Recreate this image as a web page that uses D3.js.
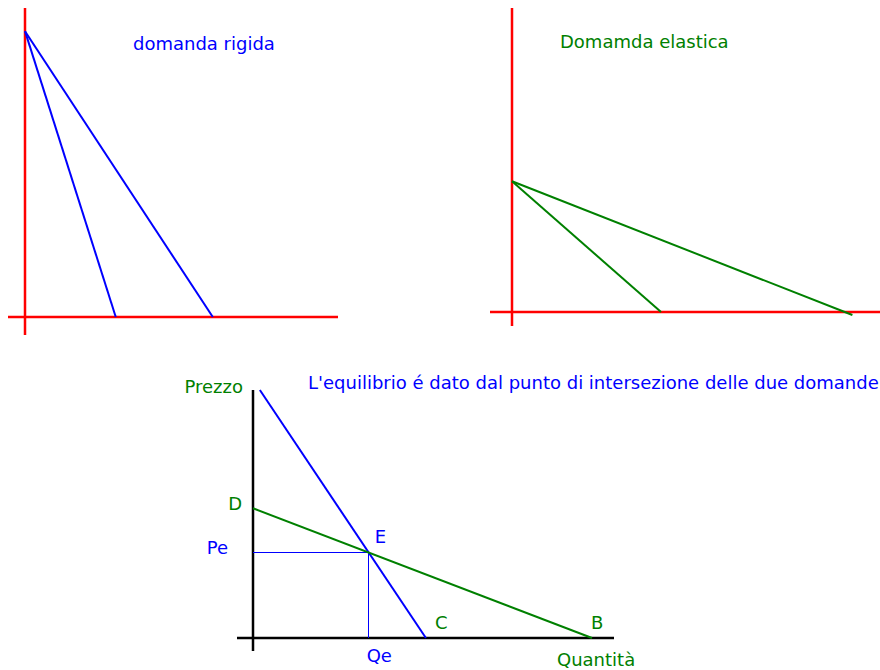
<!DOCTYPE html>
<html>
<head>
<meta charset="utf-8">
<script src="https://cdn.jsdelivr.net/npm/d3@7"></script>
<style>
  body { margin: 0; background: #fff; }
  text { font-family: "DejaVu Sans", Verdana, sans-serif; font-size: 18px; }
</style>
</head>
<body>
<div id="chart"></div>
<script>
// panel 1: domanda rigida (two steep demand curves from the same intercept)
const rigidTitle = "domanda rigida";
const rigidLines = [
    [[0, 92.5], [29, 0]],
    [[0, 92.5], [60, 0]]
];

// panel 2: domanda elastica (two flat demand curves)
const elasticTitle = "Domamda elastica";
const elasticLines = [
    [[0, 43], [40.5, 0]],
    [[0, 43], [92.5, -1]]
];

// panel 3: equilibrium of the two demands
const eqTitle = "L'equilibrio é dato dal punto di intersezione delle due domande";
const rigidDemand = [[1.9, 100], [47.9, 0]];   // blue, ends at C
const elasticDemand = [[0, 52.3], [93.9, 0]];  // green, D -> B

const W = 880, H = 670;
const RED = "#ff0000", BLUE = "#0000ff", GREEN = "#008000";

const svg = d3.select("#chart").append("svg")
    .attr("width", W)
    .attr("height", H);

const line = d3.line();

function panel(xr, yr, axisColor, axisWidth) {
    const x = d3.scaleLinear().domain([0, 100]).range(xr);
    const y = d3.scaleLinear().domain([0, 100]).range(yr);
    return { x, y, axisColor, axisWidth };
}

function drawAxes(p, xOver, yOver) {
    // horizontal axis, slightly overhanging the origin
    svg.append("line")
        .attr("x1", p.x(0) - xOver).attr("x2", p.x(100))
        .attr("y1", p.y(0)).attr("y2", p.y(0))
        .attr("stroke", p.axisColor).attr("stroke-width", p.axisWidth);
    // vertical axis
    svg.append("line")
        .attr("x1", p.x(0)).attr("x2", p.x(0))
        .attr("y1", p.y(0) + yOver).attr("y2", p.y(100))
        .attr("stroke", p.axisColor).attr("stroke-width", p.axisWidth);
}

function drawLines(p, lines, color, w, crisp) {
    svg.append("g").selectAll("path")
        .data(lines)
        .enter().append("path")
            .attr("d", d => line(d.map(pt => [p.x(pt[0]), p.y(pt[1])])))
            .attr("fill", "none")
            .attr("stroke", color)
            .attr("stroke-width", w)
            .attr("shape-rendering", crisp ? "crispEdges" : null);
}

// 1) domanda rigida
const p1 = panel([25, 338], [317, 8], RED, 2.5);
drawAxes(p1, 17, 18);
drawLines(p1, rigidLines, BLUE, 2);
svg.append("text")
    .attr("x", 133).attr("y", 50)
    .attr("fill", BLUE)
    .text(rigidTitle);

// 2) domanda elastica
const p2 = panel([512, 880], [312, 8], RED, 2.5);
drawAxes(p2, 22, 14);
drawLines(p2, elasticLines, GREEN, 2);
svg.append("text")
    .attr("x", 560).attr("y", 48)
    .attr("fill", GREEN)
    .text(elasticTitle);

// 3) equilibrio
const p3 = panel([253, 614], [638, 390], "#000", 2.5);
drawAxes(p3, 16, 13);

// intersection E of the two demand lines
function intersect(a, b) {
    const [[x1, y1], [x2, y2]] = a, [[x3, y3], [x4, y4]] = b;
    const den = (x1 - x2) * (y3 - y4) - (y1 - y2) * (x3 - x4);
    const t = ((x1 - x3) * (y3 - y4) - (y1 - y3) * (x3 - x4)) / den;
    return [x1 + t * (x2 - x1), y1 + t * (y2 - y1)];
}
const E = intersect(rigidDemand, elasticDemand);

// dropped lines Pe and Qe
drawLines(p3, [[[0, E[1]], E], [E, [E[0], 0]]], BLUE, 1, true);
drawLines(p3, [rigidDemand], BLUE, 2);
drawLines(p3, [elasticDemand], GREEN, 2);

svg.append("text")
    .attr("x", 308).attr("y", 389)
    .attr("fill", BLUE)
    .text(eqTitle);

const ex = p3.x(E[0]), ey = p3.y(E[1]);
const labels = [
    { t: "Prezzo", x: p3.x(0) - 10, y: 393, anchor: "end", c: GREEN },
    { t: "D", x: p3.x(0) - 11, y: p3.y(elasticDemand[0][1]) + 2, anchor: "end", c: GREEN },
    { t: "Pe", x: p3.x(0) - 25, y: ey + 1, anchor: "end", c: BLUE },
    { t: "E", x: ex + 6, y: ey - 10, anchor: "start", c: BLUE },
    { t: "C", x: p3.x(rigidDemand[1][0]) + 9, y: p3.y(0) - 9, anchor: "start", c: GREEN },
    { t: "B", x: p3.x(elasticDemand[1][0]) - 1, y: p3.y(0) - 9, anchor: "start", c: GREEN },
    { t: "Qe", x: ex - 2, y: 662, anchor: "start", c: BLUE },
    { t: "Quantità", x: 557, y: 666, anchor: "start", c: GREEN }
];
svg.append("g").selectAll("text")
    .data(labels)
    .enter().append("text")
        .attr("x", d => d.x)
        .attr("y", d => d.y)
        .attr("text-anchor", d => d.anchor)
        .attr("fill", d => d.c)
        .text(d => d.t);
</script>
</body>
</html>
